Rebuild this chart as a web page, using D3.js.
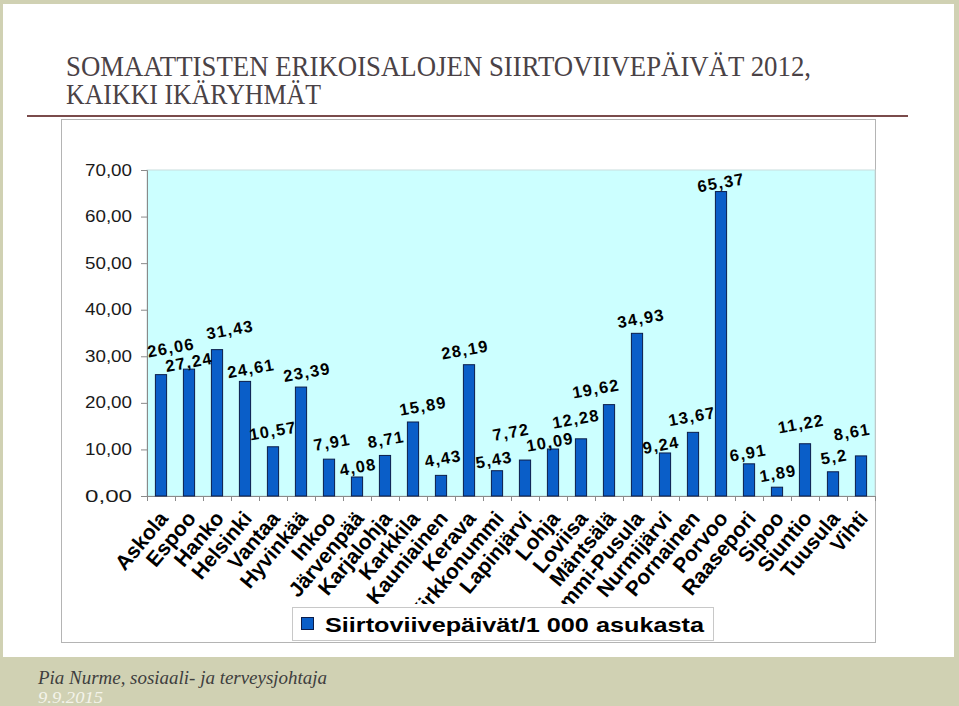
<!DOCTYPE html>
<html>
<head>
<meta charset="utf-8">
<script src="https://cdn.jsdelivr.net/npm/d3@7/dist/d3.min.js"></script>
<style>
  html, body { margin: 0; padding: 0; background: #d0d1b3; }
  svg { display: block; }
</style>
</head>
<body>
<svg id="chart" width="959" height="706"></svg>
<script>
// ---- data ----
const categories = ["Askola","Espoo","Hanko","Helsinki","Vantaa","Hyvinkää","Inkoo","Järvenpää","Karjalohja","Karkkila","Kauniainen","Kerava","Kirkkonummi","Lapinjärvi","Lohja","Loviisa","Mäntsälä","Nummi-Pusula","Nurmijärvi","Pornainen","Porvoo","Raasepori","Sipoo","Siuntio","Tuusula","Vihti"];
const values = [26.06,27.24,31.43,24.61,10.57,23.39,7.91,4.08,8.71,15.89,4.43,28.19,5.43,7.72,10.09,12.28,19.62,34.93,9.24,13.67,65.37,6.91,1.89,11.22,5.2,8.61];
const valueLabels = ["26,06","27,24","31,43","24,61","10,57","23,39","7,91","4,08","8,71","15,89","4,43","28,19","5,43","7,72","10,09","12,28","19,62","34,93","9,24","13,67","65,37","6,91","1,89","11,22","5,2","8,61"];
const yTicks = [0,10,20,30,40,50,60,70];
const seriesName = "Siirtoviivepäivät/1 000 asukasta";
const titleLines = ["SOMAATTISTEN ERIKOISALOJEN SIIRTOVIIVEPÄIVÄT 2012,", "KAIKKI IKÄRYHMÄT"];
const footerAuthor = "Pia Nurme, sosiaali- ja terveysjohtaja";
const footerDate = "9.9.2015";
// label placement nudges (px) relative to bar top, as auto-placed in the original
const labelNudgeX = [10,0,13,6,0,6,3,1,1,10,2,-4,-3,-14,-3,-5,-13,4,-4,-1,0,-1,1,-4,1,-9];
const labelNudgeY = [-27,-7,-20,-13,-16,-15,-17,-10,-16,-16,-17,-15,-11,-28,-7,-20,-16,-15,-8,-16,-9,-11,-14,-20,-15,-24];

// ---- layout ----
const svg = d3.select("#chart");
const W = 959, H = 706;
const plot = { left: 147, right: 875, top: 170, bottom: 496 };
const barColor = "#0a5ec8";
const barStroke = "#0b1d4a";

// slide background
svg.append("rect").attr("x", 0).attr("y", 0).attr("width", W).attr("height", H).attr("fill", "#d0d1b3");
svg.append("rect").attr("x", 3).attr("y", 4).attr("width", 951).attr("height", 653).attr("fill", "#ffffff");

// title
const title = svg.append("g").attr("fill", "#4a4246")
  .style("font-family", "'Liberation Serif', 'DejaVu Serif', serif").style("font-size", "28.5px");
title.append("text").attr("x", 66).attr("y", 76).attr("textLength", 745).attr("lengthAdjust", "spacingAndGlyphs").text(titleLines[0]);
title.append("text").attr("x", 66).attr("y", 104).attr("textLength", 255).attr("lengthAdjust", "spacingAndGlyphs").text(titleLines[1]);
svg.append("line").attr("x1", 27).attr("x2", 908).attr("y1", 116).attr("y2", 116)
  .attr("stroke", "#7a4b4b").attr("stroke-width", 2);

// chart box
svg.append("rect").attr("x", 61.5).attr("y", 119.5).attr("width", 814).attr("height", 523)
  .attr("fill", "#ffffff").attr("stroke", "#b4b4b4").attr("stroke-width", 1);

// scales
const x = d3.scaleBand().domain(categories).range([plot.left, plot.right]).padding(0);
const y = d3.scaleLinear().domain([0, 70]).range([plot.bottom, plot.top]);
const barW = x.bandwidth() * 0.4;

// plot area
svg.append("rect").attr("x", plot.left).attr("y", plot.top)
  .attr("width", plot.right - plot.left).attr("height", plot.bottom - plot.top)
  .attr("fill", "#ccffff").attr("stroke", "#c9dede").attr("stroke-width", 1);

// y axis
const yAxis = svg.append("g").attr("transform", `translate(${plot.left},0)`)
  .call(d3.axisLeft(y).tickValues(yTicks).tickSize(6).tickPadding(9)
    .tickFormat(d => d.toFixed(2).replace(".", ",")));
yAxis.select(".domain").attr("stroke", "#8a8a8a");
yAxis.selectAll(".tick line").attr("stroke", "#8a8a8a");
yAxis.selectAll(".tick text")
  .style("font-family", "'Liberation Sans', Arial, sans-serif").style("font-size", "16px")
  .attr("fill", "#1a1a1a").attr("textLength", 47).attr("lengthAdjust", "spacingAndGlyphs");

// x axis
const xAxis = svg.append("g").attr("transform", `translate(0,${plot.bottom})`);
xAxis.append("line").attr("x1", plot.left).attr("x2", plot.right).attr("y1", 0.5).attr("y2", 0.5).attr("stroke", "#8a8a8a");
const boundaries = categories.map(c => x(c)).concat([x(categories[categories.length - 1]) + x.bandwidth()]);
xAxis.selectAll("line.tk").data(boundaries).join("line").attr("class", "tk")
  .attr("x1", d => Math.round(d) + 0.5).attr("x2", d => Math.round(d) + 0.5)
  .attr("y1", 0).attr("y2", 5).attr("stroke", "#8a8a8a");

// bars
svg.append("g").selectAll("rect").data(categories).join("rect")
  .attr("x", (d) => x(d) + (x.bandwidth() - barW) / 2)
  .attr("y", (d, i) => y(values[i]))
  .attr("width", barW)
  .attr("height", (d, i) => y(0) - y(values[i]))
  .attr("fill", barColor).attr("stroke", barStroke).attr("stroke-width", 1);

// value labels
svg.append("g").selectAll("text").data(categories).join("text")
  .attr("transform", (d, i) => `translate(${x(d) + x.bandwidth() / 2 + labelNudgeX[i]},${y(values[i]) + labelNudgeY[i]}) rotate(-10)`)
  .attr("text-anchor", "middle").attr("dy", "0.35em")
  .style("font-family", "'Liberation Sans', Arial, sans-serif").style("font-weight", "bold")
  .style("font-size", "16.5px").style("letter-spacing", "1.3px")
  .attr("fill", "#000").text((d, i) => valueLabels[i]);

// category labels (clipped like the original)
svg.append("clipPath").attr("id", "xclip").append("rect").attr("x", 61).attr("y", 497).attr("width", 815).attr("height", 107);
svg.append("g").attr("clip-path", "url(#xclip)").selectAll("text").data(categories).join("text")
  .attr("transform", d => `translate(${x(d) + x.bandwidth() / 2 + 8},${plot.bottom + 23}) rotate(-50)`)
  .attr("text-anchor", "end")
  .style("font-family", "'Liberation Sans', Arial, sans-serif").style("font-weight", "bold")
  .style("font-size", "21px").attr("fill", "#000").text(d => d);

// legend
const lg = svg.append("g");
lg.append("rect").attr("x", 292.5).attr("y", 607.5).attr("width", 421).attr("height", 33)
  .attr("fill", "#fff").attr("stroke", "#c8c8c8");
lg.append("rect").attr("x", 301.5).attr("y", 617.5).attr("width", 12).attr("height", 12)
  .attr("fill", barColor).attr("stroke", barStroke);
lg.append("text").attr("x", 325).attr("y", 632).attr("textLength", 379).attr("lengthAdjust", "spacingAndGlyphs")
  .style("font-family", "'Liberation Sans', Arial, sans-serif").style("font-weight", "bold")
  .style("font-size", "21px").attr("fill", "#000").text(seriesName);

// footer
svg.append("text").attr("x", 38).attr("y", 684).attr("textLength", 289).attr("lengthAdjust", "spacingAndGlyphs")
  .style("font-family", "'Liberation Serif', serif").style("font-style", "italic").style("font-size", "18px")
  .attr("fill", "#3e3e3e").text(footerAuthor);
svg.append("text").attr("x", 38).attr("y", 703).attr("textLength", 65).attr("lengthAdjust", "spacingAndGlyphs")
  .style("font-family", "'Liberation Serif', serif").style("font-style", "italic").style("font-size", "17px")
  .attr("fill", "#f4f4ea").text(footerDate);
</script>
</body>
</html>
